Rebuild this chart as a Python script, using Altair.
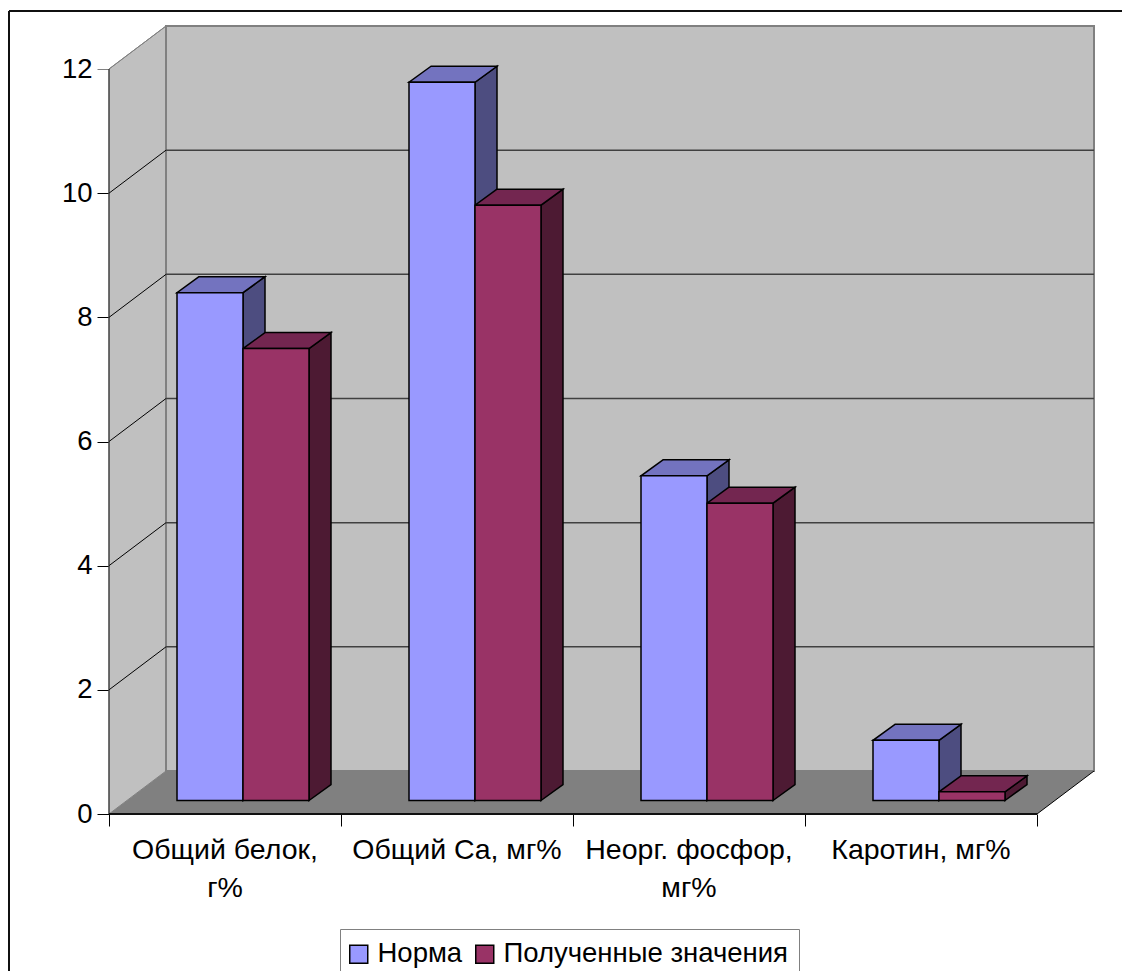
import altair as alt
import pandas as pd

categories = ["Общий белок,\nг%", "Общий Ca, мг%", "Неорг. фосфор,\nмг%", "Каротин, мг%"]
series_names = ["Норма", "Полученные значения"]
norma = [8.18, 11.57, 5.23, 0.97]
polucheno = [7.28, 9.59, 4.79, 0.14]
y_ticks = [0, 2, 4, 6, 8, 10, 12]
x_ticks = [0, 1, 2, 3, 4]
front_colors = ["#9999FF", "#993366"]
side_colors = ["#4D4D80", "#4D1A33"]
top_colors = ["#7373BF", "#732650"]

FONT = "Liberation Sans"
FS = 28.5
W, H = 1114, 963
# scale units
UX, UY = 232.0, 62.08            # px per category / per value unit
X0, Y0 = 101.0, 806.0            # svg position of category 0 / value 0
dx_wall, dy_wall = 57 / UX, 43 / UY   # depth of the 3D box
dx_bar, dy_bar = 22 / UX, 16 / UY     # depth of the bars
base = 13.5 / UY                  # bar base lift on the floor
bar_start = 68 / UX
bar_w = 66 / UX

xs = alt.Scale(domain=[-X0 / UX, (W - X0) / UX], range=[0, W], nice=False, zero=False)
ys = alt.Scale(domain=[-(H - Y0) / UY, Y0 / UY], range=[H, 0], nice=False, zero=False)
x_axis = alt.Axis(values=x_ticks, labels=False, domain=False, grid=False, tickSize=12, title=None,
                  tickColor="black", tickWidth=1, offset=-(H - Y0), orient="bottom")
y_axis = alt.Axis(values=y_ticks, domain=False, grid=False, tickSize=12, tickWidth=1, title=None,
                  tickColor=alt.condition("datum.value == 12", alt.value("#808080"), alt.value("black")),
                  labelFont=FONT, labelFontSize=27.5, labelColor="black", labelPadding=5,
                  offset=-X0, orient="left")
X = lambda f: alt.X(f"{f}:Q", scale=xs, axis=x_axis)
Y = lambda f: alt.Y(f"{f}:Q", scale=ys, axis=y_axis)

# walls
left_wall = pd.DataFrame({"x": [0, dx_wall], "y": [0, dy_wall], "y2": [12, 12 + dy_wall]})
back_wall = pd.DataFrame({"x": [dx_wall], "x2": [4 + dx_wall], "y": [dy_wall], "y2": [12 + dy_wall]})
floor = pd.DataFrame({"y": [0, dy_wall], "x": [0, dx_wall], "x2": [4, 4 + dx_wall]})

wall_l = alt.Chart(left_wall).mark_area(fill="#C0C0C0", stroke="#808080", strokeWidth=1).encode(
    x=X("x"), y=Y("y"), y2="y2:Q")
wall_b = alt.Chart(back_wall).mark_rect(fill="#C0C0C0", stroke="#808080", strokeWidth=2).encode(
    x=X("x"), x2="x2:Q", y=Y("y"), y2="y2:Q")
floor_l = alt.Chart(floor).mark_area(orient="horizontal", fill="#808080").encode(
    y=Y("y"), x=X("x"), x2="x2:Q")

# grid lines
grid = pd.DataFrame({"x": [dx_wall] * 5, "x2": [4 + dx_wall] * 5, "y": [v + dy_wall for v in y_ticks[1:-1]]})
grid_l = alt.Chart(grid).mark_rule(color="#404040", strokeWidth=1.5).encode(x=X("x"), x2="x2:Q", y=Y("y"))
diag_rows = []
for v in y_ticks[1:]:
    diag_rows += [{"v": v, "x": 0, "y": v}, {"v": v, "x": dx_wall, "y": v + dy_wall}]
diag_l = alt.Chart(pd.DataFrame(diag_rows)).mark_line(strokeWidth=1).encode(
    x=X("x"), y=Y("y"), detail="v:N",
    color=alt.condition("datum.v == 12", alt.value("#808080"), alt.value("black")))
left_edge = alt.Chart(pd.DataFrame({"x": [0], "y": [0], "y2": [12]})).mark_rule(color="#202020", strokeWidth=1).encode(
    x=X("x"), y=Y("y"), y2="y2:Q")
front_edge = alt.Chart(pd.DataFrame({"x": [0], "x2": [4], "y": [0]})).mark_rule(color="#101010", strokeWidth=2).encode(
    x=X("x"), x2="x2:Q", y=Y("y"))
right_edge = alt.Chart(pd.DataFrame({"x": [4, 4 + dx_wall], "y": [0, dy_wall]})).mark_line(color="black", strokeWidth=1).encode(
    x=X("x"), y=Y("y"))

# bars
fronts, layers3d = [], []
for s, vals in enumerate([norma, polucheno]):
    sides, tops = [], []
    for c, v in enumerate(vals):
        x0 = c + bar_start + s * bar_w
        x1 = x0 + bar_w
        fronts.append({"series": series_names[s], "x": x0, "x2": x1, "y": base, "y2": base + v})
        sides += [{"id": c, "x": x1, "y": base, "y2": base + v},
                  {"id": c, "x": x1 + dx_bar, "y": base + dy_bar, "y2": base + v + dy_bar}]
        tops += [{"id": c, "y": base + v, "x": x0, "x2": x1},
                 {"id": c, "y": base + v + dy_bar, "x": x0 + dx_bar, "x2": x1 + dx_bar}]
    layers3d.append(alt.Chart(pd.DataFrame(sides)).mark_area(
        fill=side_colors[s], stroke="black", strokeWidth=1.5).encode(
        x=X("x"), y=Y("y"), y2="y2:Q", detail="id:N"))
    layers3d.append(alt.Chart(pd.DataFrame(tops)).mark_area(
        orient="horizontal", fill=top_colors[s], stroke="black", strokeWidth=1.5).encode(
        y=Y("y"), x=X("x"), x2="x2:Q", detail="id:N"))

front_l = alt.Chart(pd.DataFrame(fronts)).mark_rect(stroke="black", strokeWidth=1.5).encode(
    x=X("x"), x2="x2:Q", y=Y("y"), y2="y2:Q",
    fill=alt.Fill("series:N", scale=alt.Scale(domain=series_names, range=front_colors),
                  legend=alt.Legend(title=None, orient="none", legendX=332, legendY=921, direction="horizontal",
                                    symbolType="square", symbolSize=324, symbolStrokeColor="black",
                                    symbolStrokeWidth=1.5, symbolOpacity=1, symbolOffset=-6, labelFont=FONT,
                                    labelFontSize=27.5, labelColor="black", labelLimit=400, fillColor="white",
                                    strokeColor="#808080", padding=11, columnPadding=9, labelOffset=5,
                                    labelBaseline="middle")))

# category labels
lab = pd.DataFrame({"x": [i + 0.5 for i in range(4)], "y": [-45 / UY] * 4, "t": categories})
lab_l = alt.Chart(lab).mark_text(font=FONT, fontSize=FS, color="black", align="center", baseline="alphabetic",
                                 lineBreak="\n", lineHeight=38).encode(x=X("x"), y=Y("y"), text="t:N")

# outer frame
frame_top = alt.Chart(pd.DataFrame({"a": [0]})).mark_rule(color="#101010", strokeWidth=2).encode(
    x=alt.value(1), x2=alt.value(W), y=alt.value(3))
frame_left = alt.Chart(pd.DataFrame({"a": [0]})).mark_rule(color="#101010", strokeWidth=2).encode(
    x=alt.value(1), y=alt.value(3), y2=alt.value(H))

chart = alt.layer(
    wall_l, wall_b, floor_l, grid_l, diag_l, left_edge, front_edge, right_edge,
    *layers3d, front_l, lab_l, frame_top, frame_left
).properties(width=W, height=H, padding=0, autosize=alt.AutoSizeParams(type="none")
).configure_view(stroke=None)

chart.save("out.html", embed_options={"renderer": "svg", "actions": False})
